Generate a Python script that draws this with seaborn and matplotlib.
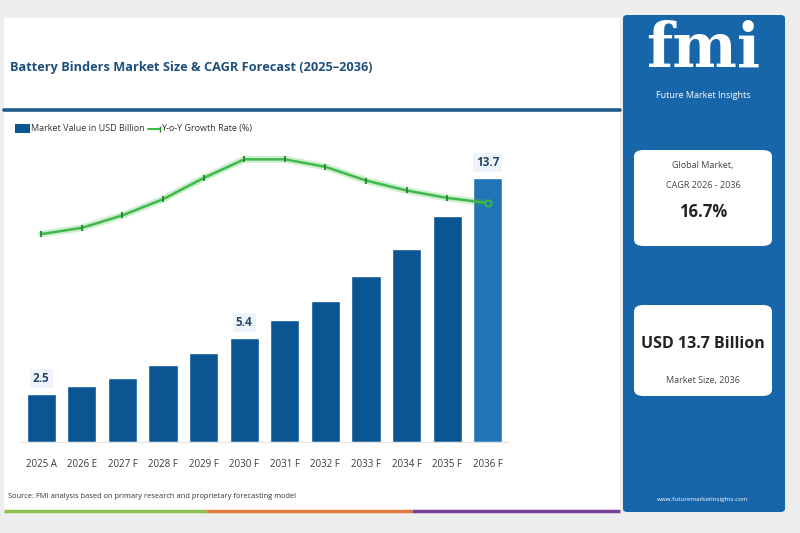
import numpy as np
import pandas as pd
import seaborn as sns
import matplotlib.pyplot as plt
from matplotlib.patches import Rectangle, FancyBboxPatch
from matplotlib.lines import Line2D

# data
years = ['2025 A', '2026 E', '2027 F', '2028 F', '2029 F', '2030 F',
         '2031 F', '2032 F', '2033 F', '2034 F', '2035 F', '2036 F']
market_value = [2.5, 2.9, 3.3, 4.0, 4.6, 5.4, 6.3, 7.3, 8.6, 10.0, 11.7, 13.7]
yoy_growth = [14.0, 14.5, 15.5, 16.8, 18.5, 20.0, 20.0, 19.4, 18.3, 17.5, 16.9, 16.5]
labelled = {'2025 A': '2.5', '2030 F': '5.4', '2036 F': '13.7'}

W, H = 800, 533
navy = '#0b5592'
last_blue = '#2175b5'
green = '#3fb94a'
dark_green = '#2a8a36'
title_blue = '#1d4f7c'

sns.set_theme(style='white')
plt.rcParams['font.family'] = ['Open Sans', 'DejaVu Sans']


def fx(x):
    return x / W


def fy(y):
    return 1 - y / H


fig = plt.figure(figsize=(8, 5.33), dpi=100)
fig.patch.set_facecolor('#eeeeee')

# white card behind the chart
fig.add_artist(Rectangle((fx(4), fy(512)), fx(620) - fx(4), fy(18) - fy(512),
                         transform=fig.transFigure, facecolor='white', edgecolor='none', zorder=0))

# title + rule
fig.text(fx(10), fy(68), 'Battery Binders Market Size & CAGR Forecast (2025\u20132036)',
         fontsize=9.2, fontweight='bold', color=title_blue, va='center', ha='left')
fig.add_artist(Line2D([fx(4), fx(620)], [fy(110), fy(110)], transform=fig.transFigure,
                      color='#1f5a8a', lw=2.6))

# legend
fig.add_artist(Rectangle((fx(15), fy(133)), fx(15), fy(124) - fy(133),
                         transform=fig.transFigure, facecolor=navy, edgecolor='none'))
fig.text(fx(31), fy(128.5), 'Market Value in USD Billion', fontsize=6.5, color='#333333', va='center')
fig.add_artist(Line2D([fx(148), fx(160)], [fy(128.5), fy(128.5)], transform=fig.transFigure,
                      color=green, lw=1.5, marker='|', markersize=4, mec=dark_green, markevery=[1]))
fig.text(fx(161), fy(128.5), 'Y-o-Y Growth Rate (%)', fontsize=6.5, color='#333333', va='center')

# main axes: bars
ax = fig.add_axes([fx(21), fy(442), fx(508) - fx(21), fy(150) - fy(442)])
df = pd.DataFrame({'year': years, 'value': market_value})
palette = {y: navy for y in years}
palette[years[-1]] = last_blue
sns.barplot(data=df, x='year', y='value', hue='year', palette=palette, legend=False,
            width=0.72, saturation=1, ax=ax)
ax.set_xlim(-0.5, len(years) - 0.5)
ax.set_ylim(0, 15.13)
ax.set_xlabel('')
ax.set_ylabel('')
ax.set_yticks([])
ax.tick_params(axis='x', length=0, pad=12, labelsize=7, labelcolor='#3a3a3a')
for s in ['top', 'right', 'left']:
    ax.spines[s].set_visible(False)
ax.spines['bottom'].set_color('#e2e2e2')
ax.spines['bottom'].set_linewidth(0.8)
ax.set_facecolor('none')

for i, (y, v) in enumerate(zip(years, market_value)):
    if y in labelled:
        ax.text(i, v + 0.45, labelled[y], ha='center', va='bottom', fontsize=8.5,
                fontweight='bold', color='#27496b',
                bbox=dict(boxstyle='square,pad=0.25', facecolor='#eef4fa', edgecolor='none'))

# growth line on twin axis
ax2 = ax.twinx()
idx = np.arange(len(years))
sns.lineplot(x=idx, y=yoy_growth, ax=ax2, color=green, lw=5, alpha=0.25, legend=False)
sns.lineplot(x=idx, y=yoy_growth, ax=ax2, color=green, lw=1.8,
             marker='|', markersize=5, markeredgewidth=1.4, markeredgecolor=dark_green, legend=False)
ax2.plot(idx[-1], yoy_growth[-1], marker='o', ms=4.5, mfc=last_blue, mec=green, mew=1.3)
ax2.set_ylim(-2.7, 20.75)
ax2.set_yticks([])
ax2.set_ylabel('')
for s in ['top', 'right', 'left', 'bottom']:
    ax2.spines[s].set_visible(False)

# source + colour strip
fig.text(fx(8), fy(497), 'Source: FMI analysis based on primary research and proprietary forecasting model',
         fontsize=5.4, color='#333333', va='center')
for x0, x1, c in [(4, 206, '#8cc04b'), (206, 412, '#e07a3c'), (412, 620, '#7c3f98')]:
    fig.add_artist(Line2D([fx(x0), fx(x1)], [fy(511), fy(511)], transform=fig.transFigure,
                          color=c, lw=2.5, solid_capstyle='butt'))

# right side panel
fig.add_artist(FancyBboxPatch((fx(623), fy(512)), fx(785) - fx(623), fy(15) - fy(512),
                              boxstyle='round,pad=0,rounding_size=0.006', transform=fig.transFigure,
                              facecolor='#1766a9', edgecolor='none'))
fig.text(fx(703), fy(50), 'fmi', fontsize=44, fontweight='bold', color='white',
         ha='center', va='center', family=['DejaVu Serif'])
fig.text(fx(703), fy(96), 'Future Market Insights', fontsize=6.5, color='white', ha='center', va='center')

for (y0, y1) in [(150, 246), (305, 396)]:
    fig.add_artist(FancyBboxPatch((fx(634), fy(y1)), fx(772) - fx(634), fy(y0) - fy(y1),
                                  boxstyle='round,pad=0,rounding_size=0.012', transform=fig.transFigure,
                                  facecolor='white', edgecolor='none'))
fig.text(fx(703), fy(165), 'Global Market,', fontsize=6.5, color='#444444', ha='center', va='center')
fig.text(fx(703), fy(185), 'CAGR 2026 - 2036', fontsize=6.5, color='#444444', ha='center', va='center')
fig.text(fx(703), fy(212), '16.7%', fontsize=12, fontweight='bold', color='#222222', ha='center', va='center')
fig.text(fx(703), fy(344), 'USD 13.7 Billion', fontsize=11.5, fontweight='bold', color='#222222',
         ha='center', va='center')
fig.text(fx(703), fy(381), 'Market Size, 2036', fontsize=6.5, color='#444444', ha='center', va='center')
fig.text(fx(703), fy(500), 'www.futuremarketinsights.com', fontsize=4.5, color='white', ha='center', va='center')

fig.savefig('out.png', dpi=100, facecolor=fig.get_facecolor())
